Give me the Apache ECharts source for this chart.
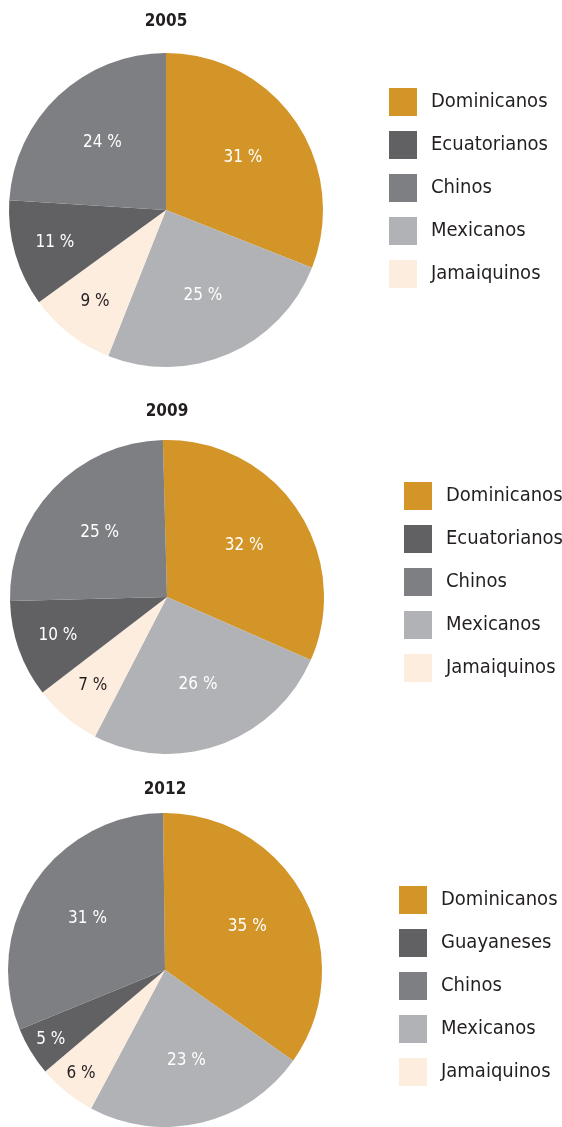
<!DOCTYPE html>
<html>
<head>
<meta charset="utf-8">
<script src="https://cdn.jsdelivr.net/npm/echarts@6/dist/echarts.min.js"></script>
<style>
  html, body { margin: 0; padding: 0; background: #fff; }
  #chart { width: 562px; height: 1127px; }
</style>
</head>
<body>
<div id="chart"></div>
<script>
// slices in clockwise order starting at the top
const years = ['2005', '2009', '2012']
const names0509 = ['Dominicanos', 'Mexicanos', 'Jamaiquinos', 'Ecuatorianos', 'Chinos']
const names2012 = ['Dominicanos', 'Mexicanos', 'Jamaiquinos', 'Guayaneses', 'Chinos']
const values2005 = [31, 25, 9, 11, 24]
const values2009 = [32, 26, 7, 10, 25]
const values2012 = [35, 23, 6, 5, 31]
// legend order
const legend0509 = ['Dominicanos', 'Ecuatorianos', 'Chinos', 'Mexicanos', 'Jamaiquinos']
const legend2012 = ['Dominicanos', 'Guayaneses', 'Chinos', 'Mexicanos', 'Jamaiquinos']

const colors = {
  Dominicanos: '#D39428',
  Ecuatorianos: '#616164',
  Guayaneses: '#616164',
  Chinos: '#7E7F83',
  Mexicanos: '#B1B2B5',
  Jamaiquinos: '#FDEDDE'
}

const FONT = "'Liberation Sans Narrow', 'DejaVu Sans Condensed', 'Noto Sans', sans-serif"
const TEXT = '#231F20'

const pies = [
  { names: names0509, values: values2005, center: [166, 210], start: 90, legendData: legend0509, legendPos: [389, 88], titleTop: 13 },
  { names: names0509, values: values2009, center: [167, 597], start: 91.5, legendData: legend0509, legendPos: [404, 482], titleTop: 403 },
  { names: names2012, values: values2012, center: [165, 970], start: 90.7, legendData: legend2012, legendPos: [399, 886], titleTop: 781 }
]
const R = 157

function pushOut(center, values) {
  return function (p) {
    const v = values[p.dataIndex]
    const k = v <= 6 ? 1.64 : v <= 11 ? 1.42 : 1.14
    const lx = p.labelRect.x + p.labelRect.width / 2
    const ly = p.labelRect.y + p.labelRect.height / 2
    return { dx: (lx - center[0]) * (k - 1), dy: (ly - center[1]) * (k - 1) }
  }
}

const option = {
  animation: false,
  title: pies.map((p, i) => ({
    text: years[i],
    left: p.center[0],
    top: p.titleTop,
    textAlign: 'center',
    padding: 0,
    textStyle: { fontFamily: FONT, fontSize: 17, fontWeight: 'bold', color: TEXT }
  })),
  legend: pies.map(p => ({
    data: p.legendData,
    orient: 'vertical',
    left: p.legendPos[0],
    top: p.legendPos[1],
    padding: 0,
    itemWidth: 28,
    itemHeight: 28,
    itemGap: 15,
    icon: 'rect',
    selectedMode: false,
    textStyle: { fontFamily: FONT, fontSize: 20, color: TEXT, padding: [3, 0, 0, 9] }
  })),
  series: pies.map(p => ({
    type: 'pie',
    center: p.center,
    radius: [0, R],
    startAngle: p.start,
    clockwise: true,
    silent: true,
    avoidLabelOverlap: false,
    itemStyle: { borderWidth: 0 },
    label: {
      show: true,
      position: 'inside',
      formatter: '{c} %',
      fontFamily: FONT,
      fontSize: 17,
      color: '#fff'
    },
    labelLine: { show: false },
    labelLayout: pushOut(p.center, p.values),
    data: p.names.map((n, j) => ({
      name: n,
      value: p.values[j],
      itemStyle: { color: colors[n] },
      label: n === 'Jamaiquinos' ? { color: TEXT } : undefined
    }))
  }))
}

const chart = echarts.init(document.getElementById('chart'))
chart.setOption(option)
</script>
</body>
</html>
